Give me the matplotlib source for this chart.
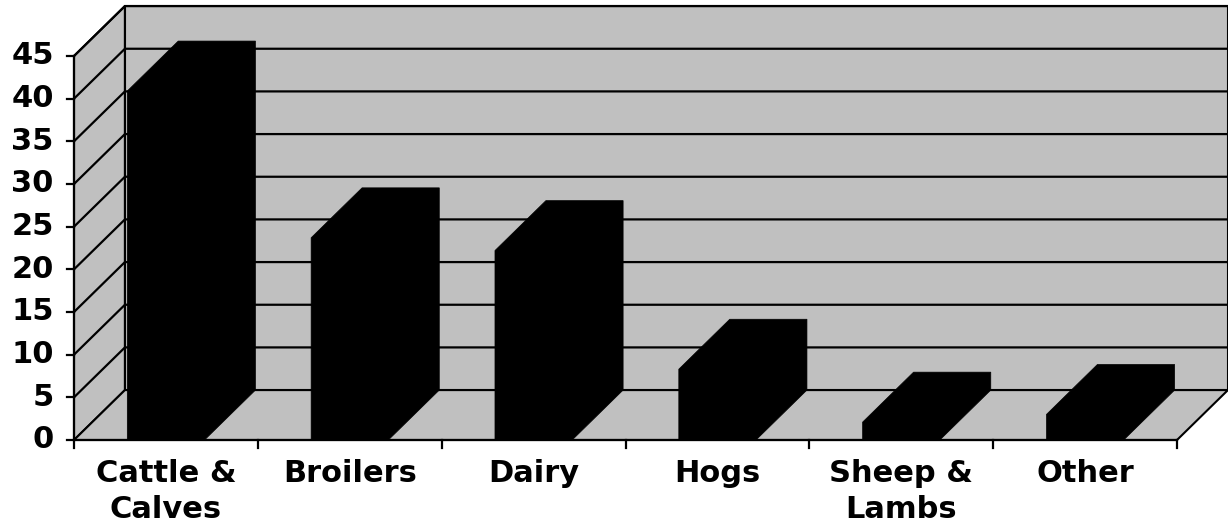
import matplotlib
matplotlib.use("Agg")
import matplotlib.pyplot as plt
from matplotlib.patches import Polygon

# data
categories = ["Cattle &\nCalves", "Broilers", "Dairy", "Hogs", "Sheep &\nLambs", "Other"]
values = [40.9, 23.7, 22.2, 8.3, 2.1, 3.0]
yticks = [0, 5, 10, 15, 20, 25, 30, 35, 40, 45]

wall = "#c0c0c0"
n = len(categories)
ymax = 45
ddx, ddy = 0.277, 5.85   # depth offset of the 3d box, in data units
bw = 0.42                 # bar width

fig = plt.figure(figsize=(12.28, 5.29), dpi=100)
ax = fig.add_axes([74 / 1228, 89 / 529, 1103 / 1228, 384 / 529])
ax.set_xlim(0, n)
ax.set_ylim(0, ymax)
ax.axis("off")

def poly(pts, fc, ec="black", lw=1.5, z=1):
    ax.add_patch(Polygon(pts, closed=True, facecolor=fc, edgecolor=ec,
                         linewidth=lw, zorder=z, clip_on=False, joinstyle="miter"))

# walls and floor
poly([(0, 0), (ddx, ddy), (ddx, ymax + ddy), (0, ymax)], wall)
poly([(ddx, ddy), (n + ddx, ddy), (n + ddx, ymax + ddy), (ddx, ymax + ddy)], wall)
poly([(0, 0), (n, 0), (n + ddx, ddy), (ddx, ddy)], wall)

# gridlines
for t in yticks[1:]:
    ax.plot([0, ddx, n + ddx], [t, t + ddy, t + ddy], color="black", lw=1.6,
            clip_on=False, zorder=2)

# bars (solid black silhouette of the 3d block)
for i, v in enumerate(values):
    x0 = i + 0.5 - bw / 2
    x1 = x0 + bw
    poly([(x0, 0), (x1, 0), (x1 + ddx, ddy), (x1 + ddx, v + ddy),
          (x0 + ddx, v + ddy), (x0, v)], "black", lw=0.5, z=3)

# front axes
ax.plot([0, 0], [0, ymax], color="black", lw=1.6, clip_on=False, zorder=4)
ax.plot([0, n], [0, 0], color="black", lw=1.6, clip_on=False, zorder=4)
for t in yticks:
    ax.plot([-0.038, 0], [t, t], color="black", lw=1.6, clip_on=False, zorder=4)
    ax.text(-0.11, t, str(t), ha="right", va="center", fontsize=22,
            fontweight="bold", family="DejaVu Sans")
for i in range(n + 1):
    ax.plot([i, i], [0, -0.9], color="black", lw=1.6, clip_on=False, zorder=4)
for i, c in enumerate(categories):
    ax.text(i + 0.5, -2.2, c, ha="center", va="top", fontsize=22,
            fontweight="bold", family="DejaVu Sans", linespacing=1.3)

fig.savefig("out.png", dpi=100)
